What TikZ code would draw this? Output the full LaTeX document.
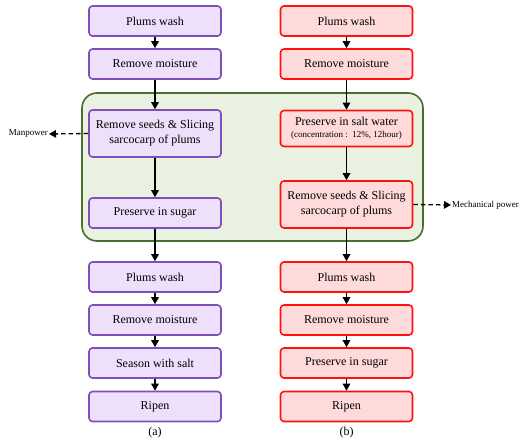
\documentclass[tikz,border=0pt]{standalone}
\usepackage{fontspec}
\setmainfont{Liberation Serif}
\newfontfamily\tnr{Liberation Serif}
\usetikzlibrary{arrows.meta}
\definecolor{pfill}{HTML}{EEDFFB}
\definecolor{pline}{HTML}{7E4FB8}
\definecolor{rfill}{HTML}{FFDADA}
\definecolor{rline}{HTML}{FF1010}
\definecolor{gfill}{HTML}{E9F1E1}
\definecolor{gline}{HTML}{4A6E2F}
\tikzset{
  box/.style={draw, line width=1.6pt, rounded corners=3.5pt, minimum width=132pt, align=center, font=\tnr\fontsize{12}{14}\selectfont, inner sep=2pt},
  pbox/.style={box, fill=pfill, draw=pline},
  rbox/.style={box, fill=rfill, draw=rline},
  flow/.style={line width=1.3pt, -{Triangle[length=7pt,width=7.5pt]}},
  dflow/.style={line width=1.3pt, dash pattern=on 4.5pt off 3pt, -{Triangle[length=7pt,width=7.5pt]}},
  side/.style={font=\tnr\fontsize{9}{11}\selectfont, inner sep=1pt},
  caption/.style={font=\tnr\fontsize{12}{14}\selectfont}
}
\begin{document}
\begin{tikzpicture}[x=1pt,y=-1pt]
\useasboundingbox (0,0) rectangle (522,443);
\node[draw=gline, fill=gfill, line width=1.6pt, rounded corners=15pt, minimum width=341pt, minimum height=148pt] (grp) at (252.5,167) {};
% left column
\node[pbox, minimum height=30pt] (a1) at (155,21) {Plums wash};
\node[pbox, minimum height=30pt] (a2) at (155,64) {Remove moisture};
\node[pbox, minimum height=47pt] (a3) at (155,133.5) {Remove seeds \& Slicing\\[1pt]sarcocarp of plums};
\node[pbox, minimum height=30pt] (a4) at (155,213) {Preserve in sugar};
\node[pbox, minimum height=30pt] (a5) at (155,277) {Plums wash};
\node[pbox, minimum height=30pt] (a6) at (155,320) {Remove moisture};
\node[pbox, minimum height=30pt] (a7) at (155,363) {Season with salt};
\node[pbox, minimum height=30pt] (a8) at (155,406.5) {Ripen};
% right column
\node[rbox, minimum height=30pt] (b1) at (346.5,21) {Plums wash};
\node[rbox, minimum height=30pt] (b2) at (346.5,64) {Remove moisture};
\node[rbox, minimum height=36pt] (b3) at (346.5,128.5) {Preserve in salt water\\[-2pt]{\fontsize{9}{11}\selectfont (concentration :~~12\%, 12hour)}};
\node[rbox, minimum height=47pt] (b4) at (346.5,204.5) {Remove seeds \& Slicing\\[1pt]sarcocarp of plums};
\node[rbox, minimum height=30pt] (b5) at (346.5,277) {Plums wash};
\node[rbox, minimum height=30pt] (b6) at (346.5,320) {Remove moisture};
\node[rbox, minimum height=30pt] (b7) at (346.5,363) {Preserve in sugar};
\node[rbox, minimum height=30pt] (b8) at (346.5,406.5) {Ripen};
% side labels
\node[side, anchor=east] (mp) at (49,134) {Manpower};
\node[side, anchor=west] (mech) at (451,205) {Mechanical power};
% captions
\node[caption] (ca) at (155,433) {(a)};
\node[caption] (cb) at (346.5,433) {(b)};
% arrows
\foreach \s/\t in {a1/a2,a2/a3,a3/a4,a4/a5,a5/a6,a6/a7,a7/a8,b1/b2,b2/b3,b3/b4,b4/b5,b5/b6,b6/b7,b7/b8}
  \draw[flow] (\s) -- (\t);
\draw[dflow] (a3.west) -- (mp.east);
\draw[dflow] (b4.east) -- (mech.west);
\end{tikzpicture}
\end{document}
